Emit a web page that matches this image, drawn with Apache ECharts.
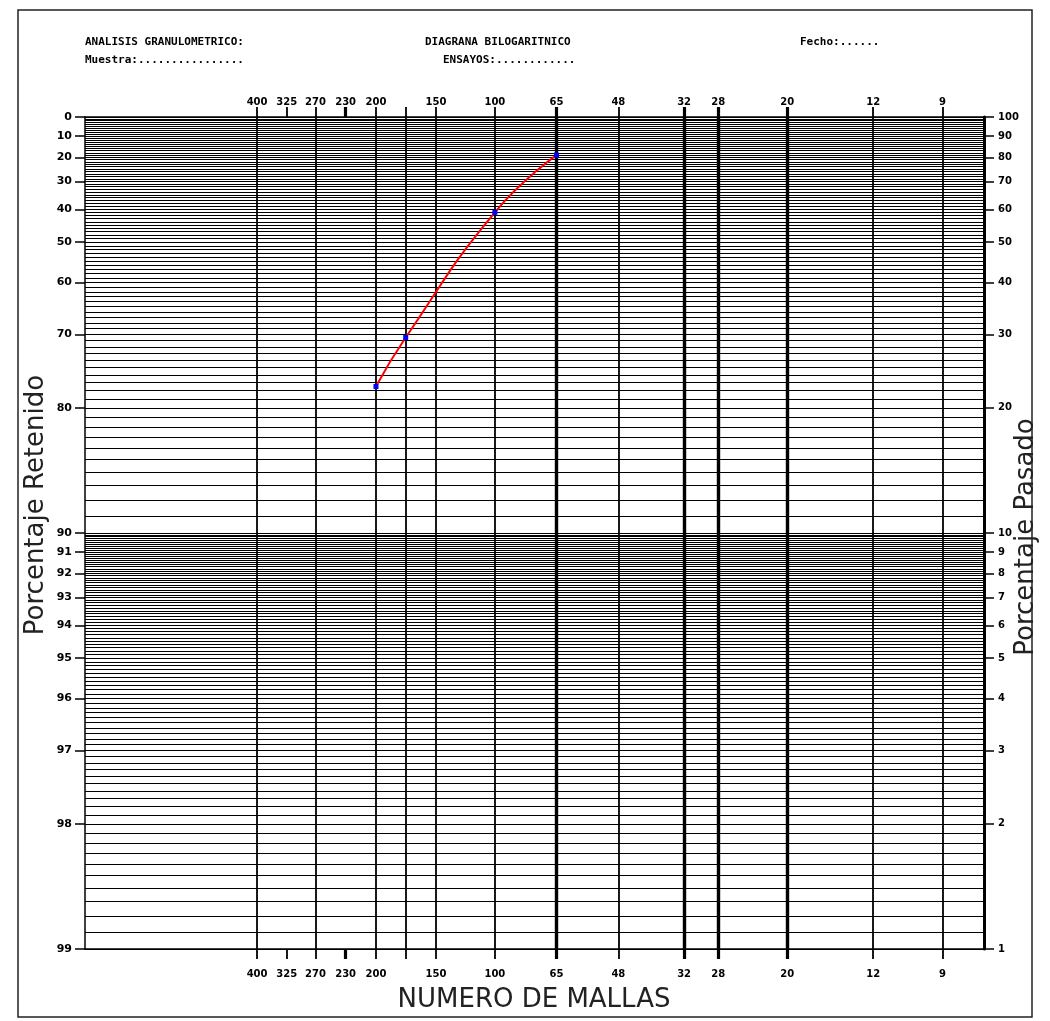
<!DOCTYPE html>
<html><head><meta charset="utf-8">
<script src="https://cdn.jsdelivr.net/npm/echarts@6/dist/echarts.min.js"></script>
<style>html,body{margin:0;padding:0;background:#fff}#c{width:1050px;height:1021px}</style>
</head><body><div id="c"></div>
<script>
// Mesh (sieve) labels and their apertures in micrometres
const meshLabels    = ['400','325','270','230','200','170','150','100','65','48','32','28','20','12','9'];
const meshApertures = [37, 44, 52, 62, 74, 88, 105, 148, 212, 304, 446, 544, 814, 1343, 2010];
const unlabeledMesh = ['170'];
const thinGridMesh  = ['400','270','200','170','150','100','48','12','9'];
const thickGridMesh = ['65','32','28','20'];
const thickTickMesh = ['230','65','32','28','20'];

// Percent passing ticks (right) -> percent retained (left) = 100 - value
const pctTicks = [1,2,3,4,5,6,7,8,9,10,20,30,40,50,60,70,80,90,100];

// Sample curve: aperture (µm) and percent passing
const sampleAperture = [74, 88, 148, 212];
const samplePassing  = [22.5, 29.5, 59, 81];

// Fine horizontal grid of the log paper: 1.0..9.9 by 0.1, 10..100 by 1
const gridPct = [];
for (let i = 10; i < 100; i++) gridPct.push(i / 10);
for (let i = 10; i <= 100; i++) gridPct.push(i);

const ap = name => meshApertures[meshLabels.indexOf(name)];
const labeledAps = meshApertures.filter((a, i) => unlabeledMesh.indexOf(meshLabels[i]) < 0);
function meshName(v) {
  for (let i = 0; i < meshApertures.length; i++) {
    if (Math.abs(Math.log(v / meshApertures[i])) < 0.01) return meshLabels[i];
  }
  return '';
}

const X_MIN = 13.57, X_MAX = 2562;
const tickFont = {fontFamily: 'DejaVu Sans', fontWeight: 'bold', fontSize: 10, color: '#000'};

function xAxisBase(pos) {
  return {
    type: 'log', logBase: 10, min: X_MIN, max: X_MAX, position: pos,
    axisLine: {show: false, onZero: false},
    axisTick: {show: false}, axisLabel: {show: false}, splitLine: {show: false}
  };
}
function visibleX(pos) {
  const a = xAxisBase(pos);
  a.axisLine = {show: true, onZero: false, lineStyle: {color: '#000', width: 1.5}};
  a.axisTick = {show: true, length: 10, customValues: meshApertures, lineStyle: {color: '#000', width: 1.8}};
  a.axisLabel = Object.assign({show: true, customValues: labeledAps, margin: pos === 'top' ? 10 : 20,
    formatter: v => meshName(v), hideOverlap: false}, tickFont);
  return a;
}
function gridX(names, w) {
  const a = xAxisBase('bottom');
  a.axisTick = {show: false, customValues: names.map(ap)};
  a.splitLine = {show: true, lineStyle: {color: '#000', width: w}};
  return a;
}
function thickTickX(pos) {
  const a = xAxisBase(pos);
  a.axisTick = {show: true, length: 10, customValues: thickTickMesh.map(ap), lineStyle: {color: '#000', width: 3.2}};
  return a;
}
function yAxisBase(pos) {
  return {
    type: 'log', logBase: 10, min: 1, max: 100, position: pos,
    axisLine: {show: false, onZero: false},
    axisTick: {show: false}, axisLabel: {show: false}, splitLine: {show: false}
  };
}
const yLeft = yAxisBase('left');
yLeft.axisLine = {show: true, onZero: false, lineStyle: {color: '#000', width: 1.5}};
yLeft.axisTick = {show: true, length: 10, customValues: pctTicks, lineStyle: {color: '#000', width: 1.5}};
yLeft.axisLabel = Object.assign({show: true, customValues: pctTicks, margin: 13,
  formatter: v => String(Math.round(100 - v))}, tickFont, {fontSize: 11});
const yRight = yAxisBase('right');
yRight.axisLine = {show: true, onZero: false, lineStyle: {color: '#000', width: 3}};
yRight.axisTick = {show: true, length: 10, customValues: pctTicks, lineStyle: {color: '#000', width: 1.5}};
yRight.axisLabel = Object.assign({show: true, customValues: pctTicks, margin: 14,
  formatter: v => String(Math.round(v))}, tickFont);
const yGrid = yAxisBase('left');
yGrid.axisTick = {show: false, customValues: gridPct};
yGrid.splitLine = {show: true, lineStyle: {color: '#000', width: 1.2}};

const mono = 'bold 11px "DejaVu Sans Mono"';
const hdr = (x, y, t) => ({type: 'text', x: x, y: y, style: {text: t, font: mono, fill: '#000', textVerticalAlign: 'middle'}});

const option = {
  animation: false,
  backgroundColor: '#fff',
  grid: {left: 85, top: 117, width: 899, height: 832, containLabel: false},
  xAxis: [visibleX('bottom'), visibleX('top'), gridX(thinGridMesh, 1.8), gridX(thickGridMesh, 3.4),
          thickTickX('bottom'), thickTickX('top')],
  yAxis: [yLeft, yRight, yGrid],
  series: [{
    type: 'line', xAxisIndex: 0, yAxisIndex: 0, z: 10,
    data: sampleAperture.map((a, i) => [a, samplePassing[i]]),
    smooth: true,
    symbol: 'rect', symbolSize: 5,
    itemStyle: {color: '#0000ff'},
    lineStyle: {color: '#ff0000', width: 2}
  }],
  graphic: [
    {type: 'rect', shape: {x: 18, y: 10, width: 1014, height: 1007}, style: {fill: 'none', stroke: '#222', lineWidth: 1.5}, silent: true},
    hdr(85, 42, 'ANALISIS GRANULOMETRICO:'),
    hdr(85, 60, 'Muestra:................'),
    hdr(425, 42, 'DIAGRANA BILOGARITNICO'),
    hdr(443, 60, 'ENSAYOS:............'),
    hdr(800, 42, 'Fecho:......'),
    {type: 'text', x: 36, y: 505, rotation: Math.PI / 2,
     style: {text: 'Porcentaje Retenido', font: '26px "DejaVu Sans"', fill: '#222', textAlign: 'center', textVerticalAlign: 'middle'}},
    {type: 'text', x: 1026, y: 537, rotation: Math.PI / 2,
     style: {text: 'Porcentaje Pasado', font: '26px "DejaVu Sans"', fill: '#222', textAlign: 'center', textVerticalAlign: 'middle'}},
    {type: 'text', x: 534, y: 1000,
     style: {text: 'NUMERO DE MALLAS', font: '26px "DejaVu Sans"', fill: '#222', textAlign: 'center', textVerticalAlign: 'middle'}}
  ]
};
const chart = echarts.init(document.getElementById('c'));
chart.setOption(option);
</script>
</body></html>
